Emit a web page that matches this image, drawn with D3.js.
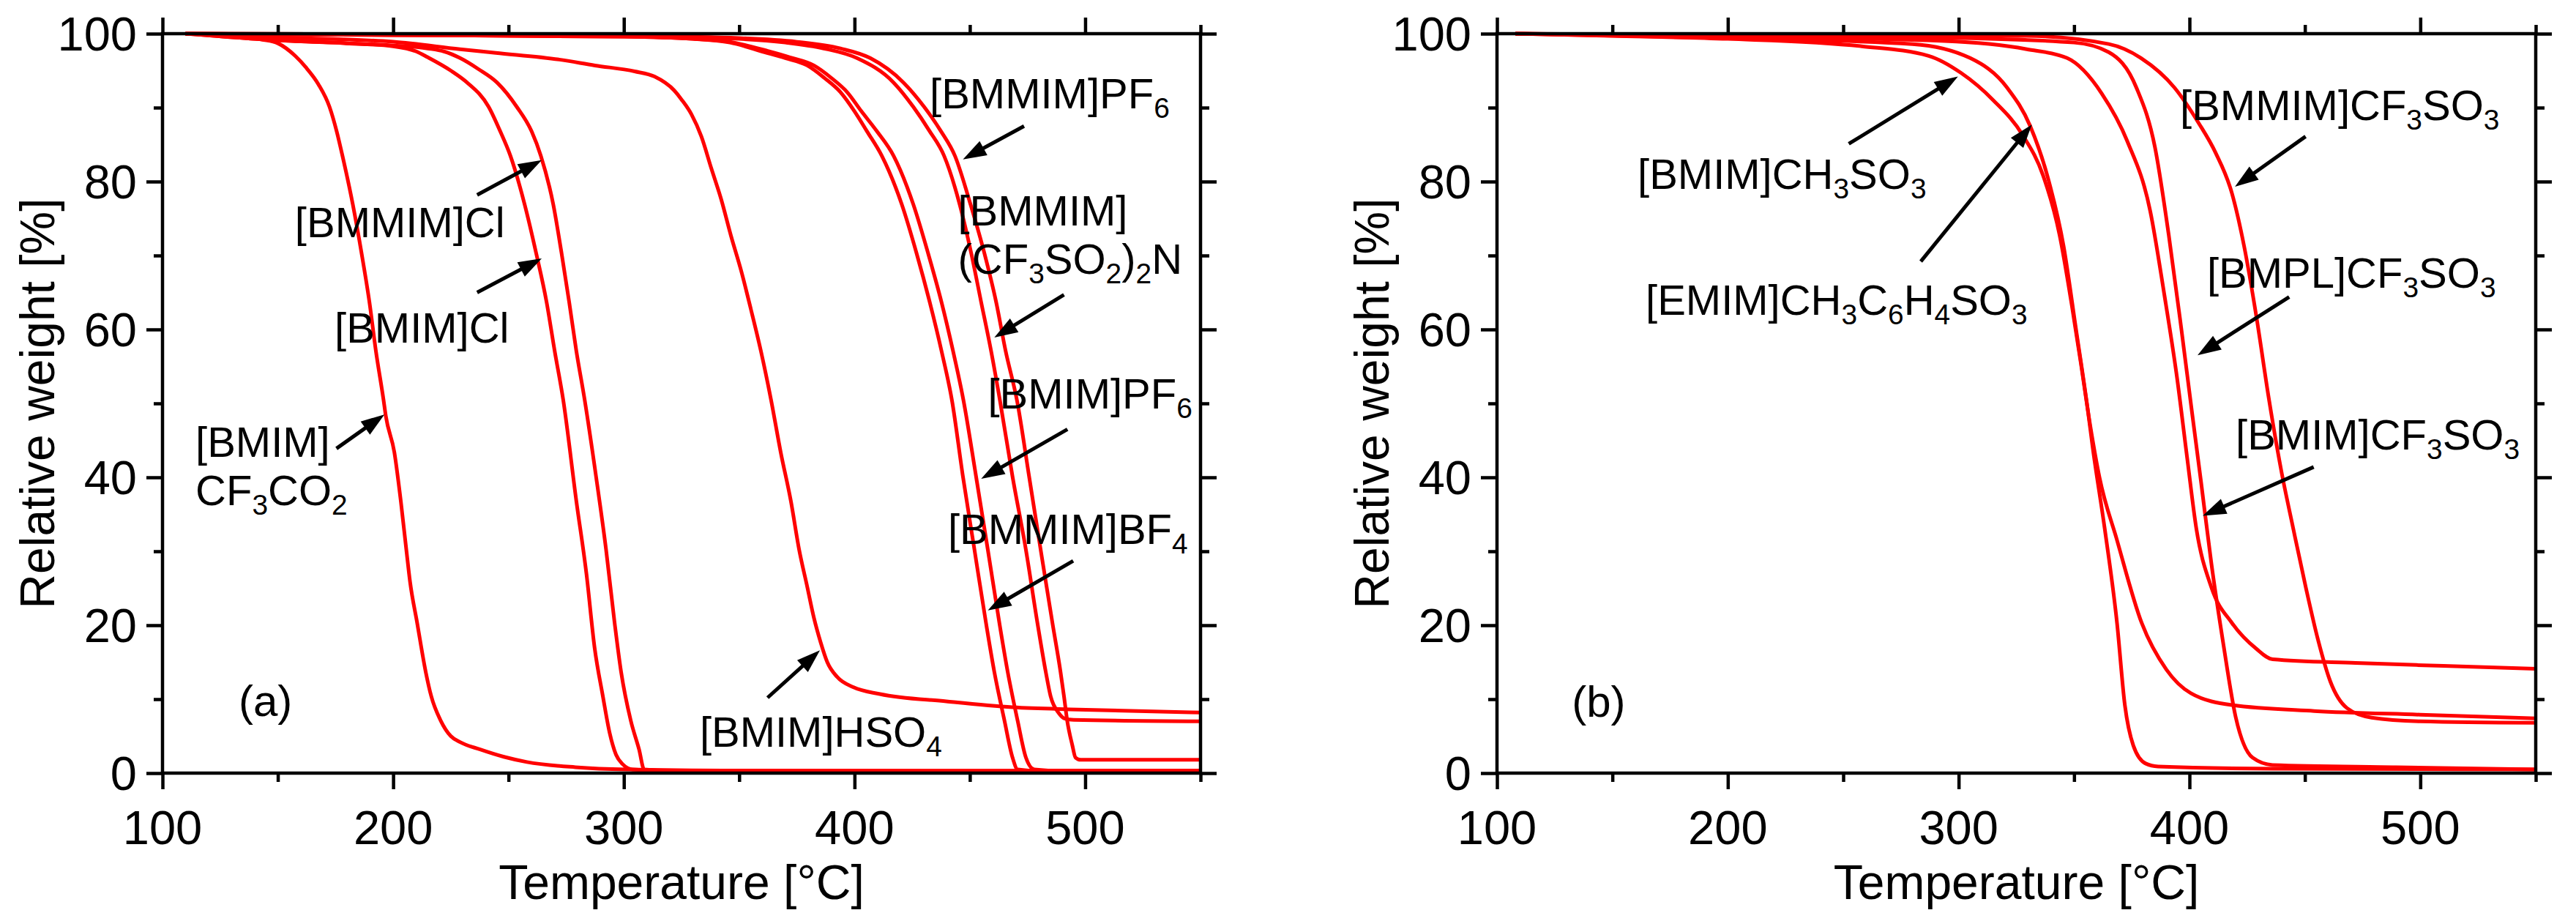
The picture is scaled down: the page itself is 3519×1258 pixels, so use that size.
<!DOCTYPE html>
<html><head><meta charset="utf-8">
<script src="https://cdn.jsdelivr.net/npm/d3@7"></script>
<style>
html,body{margin:0;padding:0;background:#fff;}
svg{display:block;}
text{font-family:"Liberation Sans",Arial,Helvetica,sans-serif;fill:#000;}
</style>
</head><body>
<svg id="chart" width="3519" height="1258"></svg>
<script>
// ---------------- DATA ----------------
const xTicksMajor = [100, 200, 300, 400, 500];
const xTicksMinor = [150, 250, 350, 450, 550];
const yTicksMajor = [0, 20, 40, 60, 80, 100];
const yTicksMinor = [10, 30, 50, 70, 90];
const xTitle = "Temperature [°C]";
const yTitle = "Relative weight [%]";
const panelTags = ["(a)", "(b)"];

// Panel (a) series: [temperature °C, relative weight %]
const a_BMIM_CF3CO2 = [[110,100],[130,99.8],[143,99.2],[150,98.7],[157.5,97],[162,95.5],[167.5,93.2],[172.4,90.1],[175.5,86.8],[178,83.5],[182.5,76.9],[186.3,70.3],[189.7,63.7],[192.5,57.1],[195.8,50.5],[196.8,48.3],[200.5,43.4],[203.3,36.8],[205.7,30.2],[207.3,25.9],[210.4,20.3],[214.1,13.7],[216.5,10.4],[220.6,7.1],[225,5],[229,4.2],[237.7,3.2],[248,2.2],[258,1.5],[279,0.8],[301,0.5],[350,0.35],[450,0.3],[550,0.3]];
const a_BMIM_Cl = [[110,100],[150,99.1],[180,98.7],[200,98.3],[210,97.6],[215,96.8],[225,95],[232,93.4],[241.4,90.1],[246.4,86.8],[250.8,83.5],[257,76.9],[262,70.3],[266.5,63.7],[270,57.1],[273.7,50.5],[279.4,36.8],[283.8,26.9],[287.3,17],[290.9,10.4],[293.8,5.5],[296.6,2.5],[299.5,1.2],[303.8,0.5],[320,0.3],[550,0.3]];
const a_BMMIM_Cl = [[110,100],[150,99.1],[180,98.7],[200,98.4],[215,98],[222,97.6],[229,96.7],[237,95.2],[245,93.4],[253.6,90.1],[260,86.8],[264,83.5],[269.4,76.9],[273,70.3],[276.3,63.7],[279.4,57.1],[283,50.5],[288,40],[292.3,30.2],[296,20.3],[298.8,13.7],[303,7.1],[306.6,3.2],[308.8,0.5],[320,0.3],[550,0.3]];
const a_BMIM_HSO4 = [[110,100],[150,99.5],[200,98.9],[229,97.9],[244.5,97.4],[272,96.5],[287.5,95.7],[304.7,94.9],[313.3,94.2],[321.9,92.3],[325,91.1],[329.3,89.1],[333.6,86.1],[337.9,81.8],[342.2,77.6],[346.5,72.6],[350.8,68],[355.1,62.7],[359.4,57.1],[363.8,50.5],[368,43.4],[372.4,36.8],[376,30.2],[379.5,25.2],[382.4,21],[385.3,17.7],[388.2,15],[392.5,13],[399.6,11.6],[411,10.7],[439.8,9.7],[468.5,8.9],[497,8.6],[550,8.2]];
const a_BMMIM_BF4 = [[110,100],[200,99.8],[300,99.6],[330,99.3],[346,98.8],[361,97.5],[370,96.7],[379.5,95.7],[387,94],[393.9,92.1],[400,89.5],[405.4,86.8],[411.8,83.5],[420.5,76.9],[426.9,70.3],[432.6,63.7],[437.7,57.1],[442.3,50.3],[447,40.1],[452,30.2],[457,20.3],[460.6,13.7],[465,7.1],[468.5,2.1],[470.7,0.5],[480,0.3],[550,0.3]];
const a_BMIM_PF6 = [[110,100],[200,99.8],[300,99.6],[330,99.3],[346,98.9],[363,97.6],[372,96.8],[382.4,95.7],[390,94],[396.8,92.1],[403,89.5],[409.7,86.8],[416.9,83.5],[425.5,76.9],[431.9,70.3],[437.7,63.7],[442.7,57.1],[447.3,50.3],[452.7,40.1],[457.8,30.2],[462.8,20.3],[466.4,13.7],[470.7,7.1],[474.3,2.1],[477.9,0.5],[490,0.3],[550,0.3]];
const a_BMMIM_Tf2N = [[110,100],[200,99.9],[300,99.7],[350,99.3],[370,98.8],[386.7,98],[401,96.7],[416.9,93.4],[425.5,90.1],[432.6,86.8],[438.8,83.5],[445.6,76.9],[450.6,70.3],[454.9,63.7],[459.2,57.1],[463.1,50.3],[468.5,40.1],[474.3,30.2],[479.3,20.3],[482.9,13.7],[485,10.4],[488.6,8.1],[491,7.4],[495,7.2],[550,7.0]];
const a_BMMIM_PF6 = [[110,100],[200,99.9],[300,99.7],[350,99.4],[375,98.9],[393.9,98],[406.8,96.7],[421.2,93.4],[430.2,90.1],[437.5,86.8],[443.5,83.5],[450.3,76.9],[456.3,70.3],[461.4,63.7],[465.5,57.1],[470.5,50.3],[475.7,40.1],[480.7,30.2],[485.8,20.3],[489.3,13.7],[490.8,10.4],[492.2,7.1],[494.4,3.8],[495.8,2.1],[498,1.8],[550,1.8]];

// Panel (b) series
const b_BMIM_CH3SO3 = [[108,100],[150,99.7],[200,99.3],[258,98.3],[287,97],[301,94.7],[315,91],[327.7,86.3],[336.6,80.8],[343.7,72.8],[349,63.3],[353,55.3],[357,47],[361,40],[368.6,31.5],[379.3,20.3],[390,14],[400.6,10.8],[418.4,9.2],[454,8.4],[500,7.9],[550,7.4]];
const b_EMIM_Tos = [[108,100],[200,99.4],[280,98.6],[305,96.7],[321,92.7],[331,87.5],[338.4,80.8],[345.5,71.2],[350.8,60.1],[356,49],[358,44.2],[363.3,33],[368.6,20.3],[372,9.2],[375.7,3.7],[381,1.3],[386.4,0.9],[436,0.6],[550,0.5]];
const b_BMPL_OTf = [[108,100],[200,99.6],[294,99],[329.5,97.9],[347,96.7],[362,91.9],[373,85.5],[383,76],[389,64.9],[394.5,53.7],[399,42.6],[403,33],[409.5,25.1],[418.4,20.3],[429,16.8],[436,15.4],[472,14.9],[510,14.5],[550,14.1]];
const b_BMIM_OTf = [[108,100],[200,99.7],[300,99.4],[350,98.8],[365,97.5],[377,92.7],[385,84.7],[391,72.8],[396.5,60],[401,49],[405,39.4],[409.5,28.3],[414.8,17.2],[420,7.6],[427.3,2.1],[436,1.1],[489.5,0.8],[550,0.5]];
const b_BMMIM_OTf = [[108,100],[200,99.8],[329.5,99.7],[365,98.6],[379,96.7],[393.5,92.7],[404,87.9],[411.3,83.9],[418.4,78.4],[423.7,71.2],[429,61.7],[434.4,50.6],[439.7,41],[445,33],[450.4,25.1],[455.7,18],[461,12.4],[468.2,8.8],[478.9,7.5],[500,7],[550,6.8]];

const seriesA = [a_BMIM_CF3CO2, a_BMIM_Cl, a_BMMIM_Cl, a_BMIM_HSO4, a_BMMIM_BF4, a_BMIM_PF6, a_BMMIM_Tf2N, a_BMMIM_PF6];
const seriesB = [b_BMIM_CH3SO3, b_EMIM_Tos, b_BMPL_OTf, b_BMIM_OTf, b_BMMIM_OTf];

// Annotation labels: text parts [text, isSubscript], anchor in data units, arrow (from -> tip) in data units
const labelsA = [
  {lines:[[["[BMMIM]Cl",0]]], at:[157.4,72.5], arrow:[[236.4,78.2],[264.4,82.9]]},
  {lines:[[["[BMIM]Cl",0]]], at:[174.6,58.2], arrow:[[236.4,65.0],[264.4,69.6]]},
  {lines:[[["[BMIM]",0]],[["CF",0],["3",1],["CO",0],["2",1]]], at:[114.3,42.8], arrow:[[175.4,43.9],[196.2,48.5]]},
  {lines:[[["[BMMIM]PF",0],["6",1]]], at:[432.6,89.9], arrow:[[473.5,87.5],[447,83.0]]},
  {lines:[[["[BMMIM]",0]],[["(CF",0],["3",1],["SO",0],["2",1],[")",0],["2",1],["N",0]]], at:[444.8,74.1], arrow:[[490.8,64.7],[460.6,58.9]]},
  {lines:[[["[BMIM]PF",0],["6",1]]], at:[457.8,49.3], arrow:[[492.3,46.5],[454.9,39.8]]},
  {lines:[[["[BMMIM]BF",0],["4",1]]], at:[440.5,31.0], arrow:[[494.8,28.7],[457.8,22.0]]},
  {lines:[[["[BMIM]HSO",0],["4",1]]], at:[332.9,3.6], arrow:[[362.3,10.2],[385.0,16.6]]}
];
const labelsB = [
  {lines:[[["[BMMIM]CF",0],["3",1],["SO",0],["3",1]]], at:[395.9,88.3], arrow:[[450.3,86.1],[419.7,79.3]]},
  {lines:[[["[BMIM]CH",0],["3",1],["SO",0],["3",1]]], at:[160.9,79.0], arrow:[[252.4,85.1],[299.7,94.2]]},
  {lines:[[["[EMIM]CH",0],["3",1],["C",0],["6",1],["H",0],["4",1],["SO",0],["3",1]]], at:[164.4,62.0], arrow:[[283.6,69.2],[331.7,87.7]]},
  {lines:[[["[BMPL]CF",0],["3",1],["SO",0],["3",1]]], at:[407.6,65.6], arrow:[[443.2,64.4],[403.5,56.5]]},
  {lines:[[["[BMIM]CF",0],["3",1],["SO",0],["3",1]]], at:[420.0,43.8], arrow:[[453.8,41.4],[405.7,34.8]]}
];

// ---------------- LAYOUT ----------------
const svg = d3.select("#chart");
const yTopPx = 46, yBottomPx = 1056;
const panels = [
  {left:222, right:1640, series:seriesA, labels:labelsA, tag:panelTags[0], tagAt:[133,7.7]},
  {left:2045, right:3464, series:seriesB, labels:labelsB, tag:panelTags[1], tagAt:[132.4,7.6]}
];
const tickFont = 65, titleFont = 66, labelFont = 58, lineLead = 66.5;
const axisW = 4.5, curveW = 5;

function richText(g, x, y, parts, size){
  const t = g.append("text").attr("x", x).attr("y", y).attr("font-size", size);
  let shifted = false;
  parts.forEach(([s, sub]) => {
    const ts = t.append("tspan").text(s);
    if (sub && !shifted){ ts.attr("dy", 13).attr("font-size", size*0.67); shifted = true; }
    else if (sub){ ts.attr("font-size", size*0.67); }
    else if (!sub && shifted){ ts.attr("dy", -13); shifted = false; }
  });
  return t;
}

function arrow(g, x1, y1, x2, y2){
  const ang = Math.atan2(y2-y1, x2-x1);
  const L = 32, H = 11;
  const bx = x2 - L*Math.cos(ang), by = y2 - L*Math.sin(ang);
  g.append("line").attr("x1", x1).attr("y1", y1).attr("x2", bx + 4*Math.cos(ang)).attr("y2", by + 4*Math.sin(ang))
    .attr("stroke", "#000").attr("stroke-width", 5);
  const px = -Math.sin(ang), py = Math.cos(ang);
  g.append("path").attr("d", `M${x2},${y2}L${bx+H*px},${by+H*py}L${bx-H*px},${by-H*py}Z`).attr("fill", "#000");
}

panels.forEach(p => {
  const x = d3.scaleLinear().domain([100, 550]).range([p.left, p.right]);
  const y = d3.scaleLinear().domain([0, 100]).range([yBottomPx, yTopPx]);
  const g = svg.append("g");

  // curves
  const line = d3.line().x(d => x(d[0])).y(d => y(d[1])).curve(d3.curveMonotoneX);
  g.append("g").selectAll("path").data(p.series).join("path")
    .attr("d", line).attr("fill", "none").attr("stroke", "#ff0000")
    .attr("stroke-width", curveW).attr("stroke-linejoin", "round");

  // axes ticks (outward, all four sides)
  const mk = (gen, scale, vals, size, tf) => {
    const a = g.append("g").attr("transform", tf)
      .call(gen(scale).tickValues(vals).tickSize(size).tickSizeOuter(0).tickFormat(""));
    a.select(".domain").remove();
    a.selectAll(".tick line").attr("stroke", "#000").attr("stroke-width", axisW);
  };
  mk(d3.axisBottom, x, xTicksMajor, 22, `translate(0,${yBottomPx})`);
  mk(d3.axisBottom, x, xTicksMinor, 12, `translate(0,${yBottomPx})`);
  mk(d3.axisTop, x, xTicksMajor, 22, `translate(0,${yTopPx})`);
  mk(d3.axisTop, x, xTicksMinor, 12, `translate(0,${yTopPx})`);
  mk(d3.axisLeft, y, yTicksMajor, 22, `translate(${p.left},0)`);
  mk(d3.axisLeft, y, yTicksMinor, 12, `translate(${p.left},0)`);
  mk(d3.axisRight, y, yTicksMajor, 22, `translate(${p.right},0)`);
  mk(d3.axisRight, y, yTicksMinor, 12, `translate(${p.right},0)`);

  // frame
  g.append("rect").attr("x", p.left).attr("y", yTopPx).attr("width", p.right - p.left).attr("height", yBottomPx - yTopPx)
    .attr("fill", "none").attr("stroke", "#000").attr("stroke-width", axisW);

  // tick labels
  g.append("g").selectAll("text").data(xTicksMajor).join("text")
    .attr("x", d => x(d)).attr("y", 1153).attr("text-anchor", "middle").attr("font-size", tickFont).text(d => d);
  g.append("g").selectAll("text").data(yTicksMajor).join("text")
    .attr("x", p.left - 35).attr("y", d => y(d) + 0.358*tickFont).attr("text-anchor", "end").attr("font-size", tickFont).text(d => d);

  // titles
  g.append("text").attr("x", (p.left + p.right)/2).attr("y", 1228).attr("text-anchor", "middle")
    .attr("font-size", titleFont).text(xTitle);
  g.append("text").attr("transform", `translate(${p.left - 148},${(yTopPx + yBottomPx)/2}) rotate(-90)`)
    .attr("text-anchor", "middle").attr("font-size", titleFont).text(yTitle);

  // panel tag
  g.append("text").attr("x", x(p.tagAt[0])).attr("y", y(p.tagAt[1])).attr("font-size", 60).text(p.tag);

  // annotations
  p.labels.forEach(l => {
    l.lines.forEach((parts, i) => richText(g, x(l.at[0]), y(l.at[1]) + i*lineLead, parts, labelFont));
    arrow(g, x(l.arrow[0][0]), y(l.arrow[0][1]), x(l.arrow[1][0]), y(l.arrow[1][1]));
  });
});
</script>
</body></html>
